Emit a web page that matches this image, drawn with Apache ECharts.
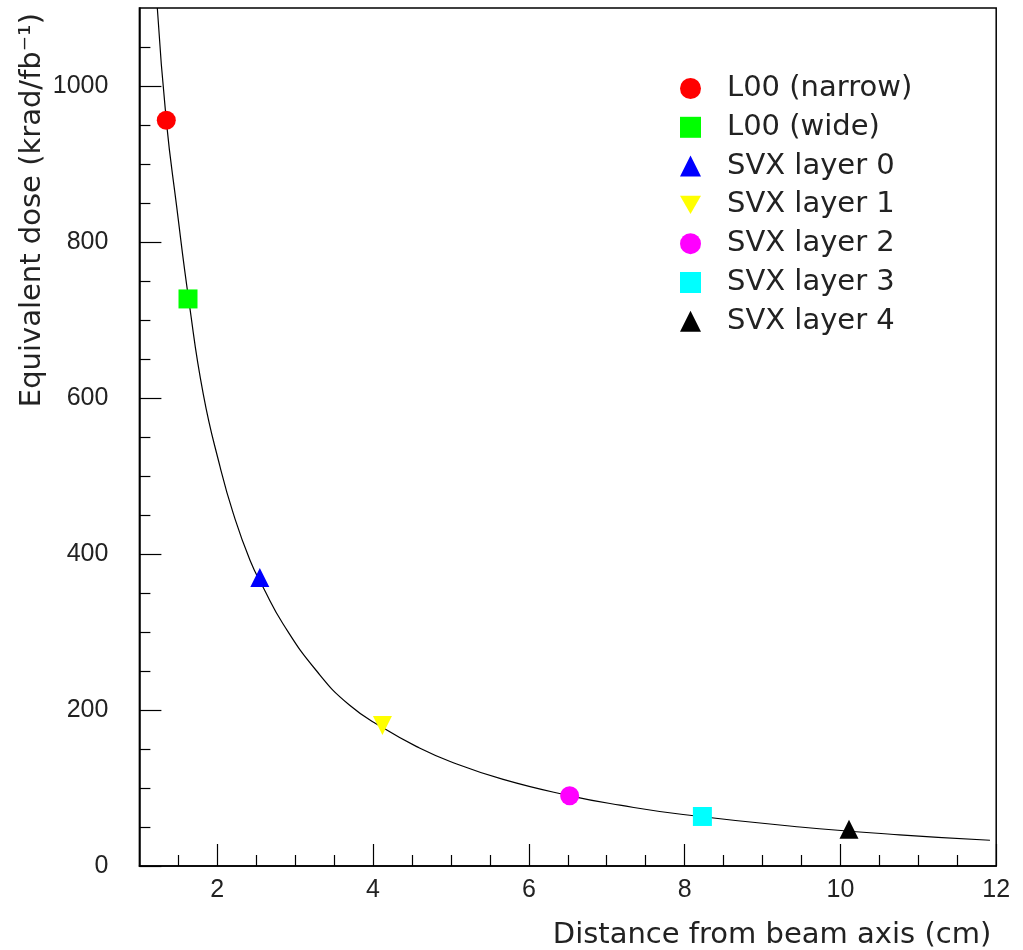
<!DOCTYPE html>
<html>
<head>
<meta charset="utf-8">
<script src="https://cdn.jsdelivr.net/npm/echarts@6/dist/echarts.min.js"></script>
<style>
html,body{margin:0;padding:0;background:#fff;}
#chart{width:1023px;height:950px;}
</style>
</head>
<body>
<div id="chart"></div>
<script>
// ---- data ----
const layerNames = ['L00 (narrow)', 'L00 (wide)', 'SVX layer 0', 'SVX layer 1', 'SVX layer 2', 'SVX layer 3', 'SVX layer 4'];
const layerRadius = [1.345, 1.624, 2.546, 4.12, 6.524, 8.228, 10.11];
const layerDose = [956, 727, 370, 180, 90, 63.5, 47];
const layerColors = ['#ff0000', '#00ff00', '#0000ff', '#ffff00', '#ff00ff', '#00ffff', '#000000'];
const layerSymbols = ['circle', 'rect', 'triangle', 'path://M0,0L20,0L10,17.3Z', 'circle', 'rect', 'triangle'];

const curveRadius = [1.23, 1.345, 1.479, 1.639, 1.82, 2.035, 2.205, 2.42, 2.59, 2.847, 3.276, 3.70, 4.13, 4.56, 4.99, 5.67, 6.53, 7.17, 7.98, 9.48, 10.76, 11.92];
const curveDose = [1100, 956, 845, 722, 605, 512, 452, 392, 357, 310, 250, 206, 177, 153, 134, 111, 90, 78, 66, 50, 40, 33];

const xMajorTicks = [2, 4, 6, 8, 10, 12];
const xMinorTicks = [1.5, 2.5, 3, 3.5, 4.5, 5, 5.5, 6.5, 7, 7.5, 8.5, 9, 9.5, 10.5, 11, 11.5];
const yMajorTicks = [0, 200, 400, 600, 800, 1000];
const yMinorTicks = [50, 100, 150, 250, 300, 350, 450, 500, 550, 650, 700, 750, 850, 900, 950, 1050];

const xTitle = 'Distance from beam axis (cm)';
const yTitle = 'Equivalent dose (krad/fb\u207B\u00B9)';

// ---- chart ----
const chart = echarts.init(document.getElementById('chart'), null, {renderer: 'canvas'});
const labelFont = {fontFamily: 'Liberation Sans', fontSize: 25, color: '#222'};
const titleFont = {fontFamily: 'DejaVu Sans', fontSize: 29, color: '#222'};

const series = [{
  type: 'line',
  name: 'fit',
  data: curveRadius.map((r, i) => [r, curveDose[i]]),
  showSymbol: false,
  smooth: 0.5,
  clip: true,
  silent: true,
  lineStyle: {color: '#000', width: 1.2},
  z: 1
}];
layerNames.forEach((n, i) => {
  series.push({
    type: 'scatter',
    name: n,
    data: [[layerRadius[i], layerDose[i]]],
    symbol: layerSymbols[i],
    symbolSize: 19,
    itemStyle: {color: layerColors[i], opacity: 1},
    z: 3
  });
});

chart.setOption({
  animation: false,
  backgroundColor: '#fff',
  grid: {
    left: 139.4, right: 26.8, top: 8, bottom: 84,
    containLabel: false, outerBoundsMode: 'none',
    show: true, borderColor: '#000', borderWidth: 1.5, backgroundColor: 'transparent'
  },
  legend: {
    orient: 'vertical',
    left: 675, top: 69,
    itemWidth: 21, itemHeight: 21, itemGap: 9.8,
    selectedMode: false,
    data: layerNames.map((n, i) => ({name: n, icon: layerSymbols[i], itemStyle: {color: layerColors[i]}})),
    textStyle: {fontFamily: 'DejaVu Sans', fontSize: 29, color: '#222', padding: [0, 0, 0, 21]}
  },
  xAxis: [{
    type: 'value', min: 1, max: 12,
    name: xTitle, nameLocation: 'end', nameGap: -5, nameMoveOverlap: false,
    nameTextStyle: Object.assign({}, titleFont, {align: 'right', verticalAlign: 'top', padding: [55, 0, 0, 0]}),
    axisLine: {show: true, onZero: false, lineStyle: {color: '#000', width: 1.5}},
    axisTick: {show: true, inside: true, length: 22, customValues: xMajorTicks, lineStyle: {color: '#000', width: 1.2}},
    axisLabel: Object.assign({show: true, margin: 12, customValues: xMajorTicks, formatter: v => String(v)}, labelFont),
    splitLine: {show: false}
  }, {
    type: 'value', min: 1, max: 12, position: 'bottom',
    axisLine: {show: false},
    axisTick: {show: true, inside: true, length: 11, customValues: xMinorTicks, lineStyle: {color: '#000', width: 1.2}},
    axisLabel: {show: false},
    splitLine: {show: false}
  }],
  yAxis: [{
    type: 'value', min: 0, max: 1100, interval: 200,
    name: yTitle, nameLocation: 'end', nameRotate: 90, nameGap: -5, nameMoveOverlap: false,
    nameTextStyle: Object.assign({}, titleFont, {align: 'right', verticalAlign: 'bottom', padding: [0, 0, 92, 0]}),
    axisLine: {show: true, onZero: false, lineStyle: {color: '#000', width: 1.5}},
    axisTick: {show: true, inside: true, length: 22, customValues: yMajorTicks, lineStyle: {color: '#000', width: 1.2}},
    axisLabel: Object.assign({show: true, margin: 31, customValues: yMajorTicks, formatter: v => String(v)}, labelFont),
    splitLine: {show: false}
  }, {
    type: 'value', min: 0, max: 1100, position: 'left', offset: 0,
    axisLine: {show: false},
    axisTick: {show: true, inside: true, length: 11, customValues: yMinorTicks, lineStyle: {color: '#000', width: 1.2}},
    axisLabel: {show: false},
    splitLine: {show: false}
  }],
  series: series
});
</script>
</body>
</html>
